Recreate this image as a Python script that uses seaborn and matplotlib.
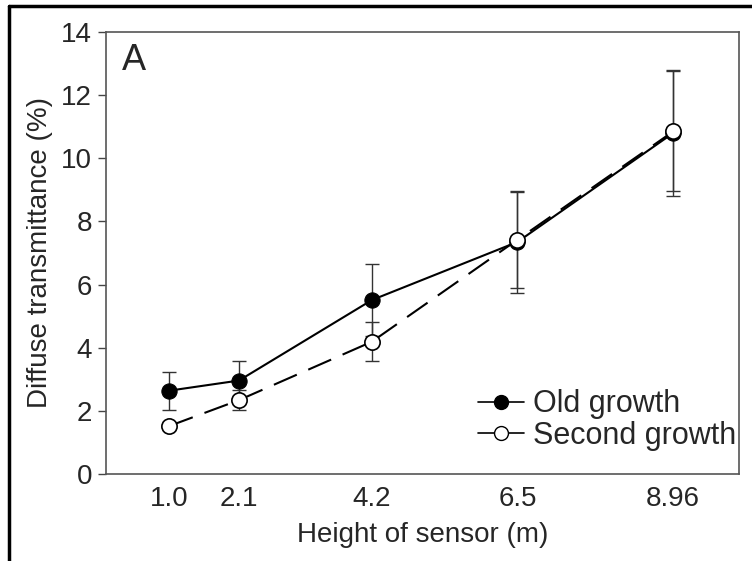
import matplotlib
matplotlib.use("Agg")
import matplotlib.pyplot as plt
import seaborn as sns
import pandas as pd
from matplotlib.lines import Line2D

heights = [1.0, 2.1, 4.2, 6.5, 8.96]
tick_labels = ["1.0", "2.1", "4.2", "6.5", "8.96"]
old_growth = [2.64, 2.96, 5.51, 7.35, 10.8]
old_err = [0.6, 0.63, 1.13, 1.62, 2.0]
second_growth = [1.52, 2.34, 4.19, 7.42, 10.85]
second_err = [0.1, 0.31, 0.61, 1.52, 1.9]
y_ticks = [0, 2, 4, 6, 8, 10, 12, 14]

sns.set_theme(style="white")
plt.rcParams['font.family'] = ['Liberation Sans', 'DejaVu Sans']

fig = plt.figure(figsize=(7.52, 5.61), dpi=100)
ax = fig.add_axes([106/752, 1-474/561, (739-106)/752, (474-32)/561])

df_old = pd.DataFrame({"h": heights, "v": old_growth})
df_sec = pd.DataFrame({"h": heights, "v": second_growth})

ax.errorbar(heights, old_growth, yerr=old_err, fmt='none', ecolor='#333333',
            elinewidth=1.0, capsize=5, capthick=1.0, zorder=2)
ax.errorbar(heights, second_growth, yerr=second_err, fmt='none', ecolor='#333333',
            elinewidth=1.0, capsize=5, capthick=1.0, zorder=2)

sns.lineplot(data=df_old, x="h", y="v", ax=ax, color='black', lw=1.5,
             marker='o', markersize=11, markerfacecolor='black',
             markeredgecolor='black', zorder=3)
sns.lineplot(data=df_sec, x="h", y="v", ax=ax, color='black', lw=1.5,
             linestyle=(0, (12, 6)), marker='o', markersize=11,
             markerfacecolor='white', markeredgecolor='black',
             markeredgewidth=1.2, zorder=4)

ax.set_xlim(0, 10)
ax.set_ylim(0, 14)
ax.set_xticks(heights)
ax.set_xticklabels(tick_labels)
ax.set_yticks(y_ticks)
ax.tick_params(axis='y', direction='out', length=6, width=1, color='#444444',
               labelsize=20, pad=4, left=True)
ax.tick_params(axis='x', length=0, labelsize=20, pad=9)
for s in ax.spines.values():
    s.set_color('#555555')
    s.set_linewidth(1.2)

ax.set_xlabel("Height of sensor (m)", fontsize=20, labelpad=7)
ax.set_ylabel("Diffuse transmittance (%)", fontsize=20, labelpad=6)
ax.text(0.025, 0.975, "A", transform=ax.transAxes, fontsize=26,
        va='top', ha='left')

handles = [
    Line2D([0], [0], color='black', lw=1.2, marker='o', markersize=10,
           markerfacecolor='black', markeredgecolor='black'),
    Line2D([0], [0], color='black', lw=1.2, marker='o', markersize=10,
           markerfacecolor='white', markeredgecolor='black'),
]
ax.legend(handles, ["Old growth", "Second growth"], loc='lower right',
          bbox_to_anchor=(1.02, 0.018), frameon=False, fontsize=22,
          handlelength=1.5, handletextpad=0.3, labelspacing=0.05,
          borderaxespad=0.1)

fig.add_artist(Line2D([9/752, 1], [1-6/561, 1-6/561], color='black', lw=2.5,
                      transform=fig.transFigure))
fig.add_artist(Line2D([9/752, 9/752], [0, 1-6/561], color='black', lw=2.5,
                      transform=fig.transFigure))

fig.savefig("out.png", dpi=100)
